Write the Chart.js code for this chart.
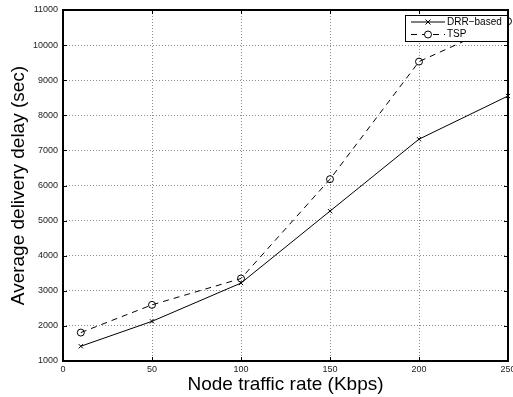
<!DOCTYPE html>
<html>
<head>
<meta charset="utf-8">
<script src="https://cdn.jsdelivr.net/npm/chart.js@4/dist/chart.umd.min.js"></script>
<style>
html, body { margin: 0; padding: 0; background: #fff; }
#wrap { width: 513px; height: 397px; }
</style>
</head>
<body>
<div id="wrap"><canvas id="delayChart" width="513" height="397"></canvas></div>
<script>
// traffic rate (Kbps) vs average delivery delay (sec)
const rates = [10, 50, 100, 150, 200, 250];
const drrDelay = [1420, 2130, 3220, 5270, 7320, 8550];
const tspDelay = [1810, 2600, 3350, 6180, 9530, 10680];
const seriesNames = ['DRR\u2212based', 'TSP'];

const FONT = "'Liberation Sans', Arial, Helvetica, sans-serif";

function toPoints(ys) {
    return rates.map((x, i) => ({ x: x, y: ys[i] }));
}

// box round the plot, inward ticks and the little legend in the top right
const framePlugin = {
    id: 'frame',
    afterDatasetsDraw(chart) {
        const ctx = chart.ctx;
        const a = chart.chartArea;
        const xs = chart.scales.x, ys = chart.scales.y;
        ctx.save();
        ctx.strokeStyle = '#000';
        ctx.lineWidth = 1;
        ctx.beginPath();
        xs.ticks.forEach(t => {
            const px = Math.round(xs.getPixelForValue(t.value)) + 0.5;
            ctx.moveTo(px, a.bottom); ctx.lineTo(px, a.bottom - 4);
            ctx.moveTo(px, a.top); ctx.lineTo(px, a.top + 4);
        });
        ys.ticks.forEach(t => {
            const py = Math.round(ys.getPixelForValue(t.value)) + 0.5;
            ctx.moveTo(a.left, py); ctx.lineTo(a.left + 4, py);
            ctx.moveTo(a.right, py); ctx.lineTo(a.right - 4, py);
        });
        ctx.stroke();
        ctx.lineWidth = 2;
        ctx.strokeRect(a.left, a.top, a.right - a.left, a.bottom - a.top);

        // legend
        const bx = a.right - 103, by = a.top + 5, bw = 103, bh = 27;
        ctx.fillStyle = '#fff';
        ctx.fillRect(bx, by, bw, bh);
        ctx.lineWidth = 1;
        ctx.strokeRect(bx + 0.5, by + 0.5, bw - 1, bh - 1);
        const rows = [by + 7, by + 19.5];
        chart.data.datasets.forEach((ds, i) => {
            const y = rows[i];
            ctx.strokeStyle = '#000';
            ctx.lineWidth = 1;
            ctx.setLineDash(ds.borderDash || []);
            ctx.beginPath();
            ctx.moveTo(bx + 6, y); ctx.lineTo(bx + 40, y);
            ctx.stroke();
            ctx.setLineDash([]);
            const mx = bx + 23;
            ctx.beginPath();
            if (ds.pointStyle === 'crossRot') {
                ctx.moveTo(mx - 2.5, y - 2.5); ctx.lineTo(mx + 2.5, y + 2.5);
                ctx.moveTo(mx + 2.5, y - 2.5); ctx.lineTo(mx - 2.5, y + 2.5);
            } else {
                ctx.fillStyle = '#fff';
                ctx.arc(mx, y, 3.5, 0, Math.PI * 2);
                ctx.fill();
            }
            ctx.stroke();
            ctx.fillStyle = '#000';
            ctx.font = '10px ' + FONT;
            ctx.textBaseline = 'middle';
            ctx.fillText(seriesNames[i], bx + 42, y);
        });
        ctx.restore();
    }
};

const ctx = document.getElementById('delayChart').getContext('2d');

new Chart(ctx, {
    type: 'line',
    data: {
        datasets: [
            {
                label: seriesNames[0],
                data: toPoints(drrDelay),
                borderColor: '#000',
                borderWidth: 1,
                pointStyle: 'crossRot',
                pointRadius: 3,
                pointBorderColor: '#000',
                pointBorderWidth: 1,
                tension: 0,
                clip: 6
            },
            {
                label: seriesNames[1],
                data: toPoints(tspDelay),
                borderColor: '#000',
                borderWidth: 1,
                borderDash: [6, 5],
                pointStyle: 'circle',
                pointRadius: 3.5,
                pointBorderColor: '#000',
                pointBackgroundColor: 'rgba(0,0,0,0)',
                pointBorderWidth: 1,
                tension: 0,
                clip: 6
            }
        ]
    },
    options: {
        responsive: false,
        animation: false,
        layout: { padding: { left: 0, right: 3, top: 10, bottom: 0 } },
        plugins: {
            legend: { display: false },
            tooltip: { enabled: false }
        },
        scales: {
            x: {
                type: 'linear',
                min: 0,
                max: 250,
                ticks: {
                    stepSize: 50,
                    padding: 3,
                    maxRotation: 0,
                    color: '#222',
                    font: { family: FONT, size: 9 }
                },
                grid: { color: '#8c8c8c', drawTicks: false, lineWidth: 1 },
                border: { display: false, dash: [1, 2] },
                title: {
                    display: true,
                    text: 'Node traffic rate (Kbps)',
                    color: '#000',
                    font: { family: FONT, size: 19 },
                    padding: { top: 0, bottom: 1 }
                },
                afterFit: s => { s.height = 36; s.paddingLeft = 0; s.paddingRight = 0; }
            },
            y: {
                min: 1000,
                max: 11000,
                ticks: {
                    stepSize: 1000,
                    padding: 5,
                    color: '#222',
                    font: { family: FONT, size: 9 },
                    callback: v => String(v)
                },
                grid: { color: '#8c8c8c', drawTicks: false, lineWidth: 1 },
                border: { display: false, dash: [1, 2] },
                title: {
                    display: true,
                    text: 'Average delivery delay (sec)',
                    color: '#000',
                    font: { family: FONT, size: 19 },
                    padding: { top: 7, bottom: 0 }
                },
                afterFit: s => { s.width = 63; s.paddingTop = 0; s.paddingBottom = 0; }
            }
        }
    },
    plugins: [framePlugin]
});
</script>
</body>
</html>
